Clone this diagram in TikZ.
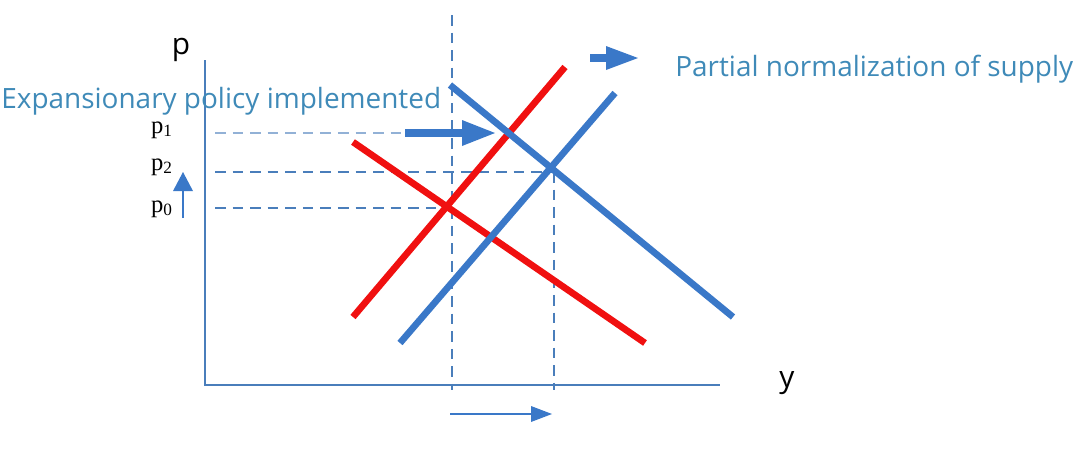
\documentclass[tikz,border=0pt]{standalone}
\usepackage{fontspec}
\setmainfont{Liberation Serif}
\setsansfont{Open Sans}
\usepackage{xcolor}
\definecolor{axisblue}{HTML}{4A7EBB}
\definecolor{curveblue}{HTML}{3A78C8}
\definecolor{curvered}{HTML}{F01010}
\definecolor{labelblue}{HTML}{3F8AB8}

\tikzset{
  axis/.style={axisblue, line width=1.1pt},
  guide/.style={axisblue, line width=0.75pt, dash pattern=on 6pt off 4pt},
  curve/.style={line width=3.8pt},
  pricelabel/.style={inner sep=0pt, font=\fontsize{14}{15}\selectfont},
  bigtext/.style={labelblue, inner sep=0pt, font=\sffamily\fontsize{15.9}{17}\selectfont},
}

\begin{document}
\begin{tikzpicture}[x=0.02cm, y=-0.02cm]
  \useasboundingbox (0,0) rectangle (1080,451);
  % Draw axes
  \draw[axis] (205,60) -- (205,385) -- (720,385);
  \node[font=\sffamily\fontsize{17}{18}\selectfont] (plabel) at (181,50) {p};
  \node[font=\sffamily\fontsize{17}{18}\selectfont] (ylabel) at (787,383) {y};
  % Draw guide lines
  \draw[guide] (452,15) -- (452,390);
  \draw[guide] (554,172) -- (554,390);
  \draw[guide, axisblue!60, line width=0.6pt] (215,133) -- (450,133);
  \draw[guide] (215,172) -- (554,172);
  \draw[guide] (215,208) -- (447,208);
  % Price labels
  \node[pricelabel] (pone) at (162,130) {p\textsubscript{1}};
  \node[pricelabel] (ptwo) at (162,167) {p\textsubscript{2}};
  \node[pricelabel] (pzero) at (162,209) {p\textsubscript{0}};
  % Draw red curves
  \draw[curve, curvered] (353,142) -- (645,343);
  \draw[curve, curvered] (353,317) -- (565,67);
  % Draw blue curves
  \draw[curve, curveblue] (450,85) -- (733,317);
  \draw[curve, curveblue] (400,343) -- (615,93);
  % Draw shift arrows
  \draw[curveblue, line width=4.5pt] (405,133) -- (462,133);
  \fill[curveblue] (462,120) -- (495,133) -- (462,146) -- cycle;
  \draw[curveblue, line width=5pt] (590,58) -- (606,58);
  \fill[curveblue] (606,46) -- (638,58) -- (606,70) -- cycle;
  \draw[curveblue, line width=0.8pt] (183,218) -- (183,190);
  \fill[curveblue] (173,191) -- (183,172) -- (193,191) -- cycle;
  \draw[curveblue, line width=0.8pt] (450,414) -- (532,414);
  \fill[curveblue] (531,406) -- (552,414) -- (531,422) -- cycle;
  % Captions
  \node[bigtext, anchor=west] (expand) at (1,101) {Expansionary policy implemented};
  \node[bigtext, anchor=west] (supply) at (675,69) {Partial normalization of supply};
\end{tikzpicture}
\end{document}
